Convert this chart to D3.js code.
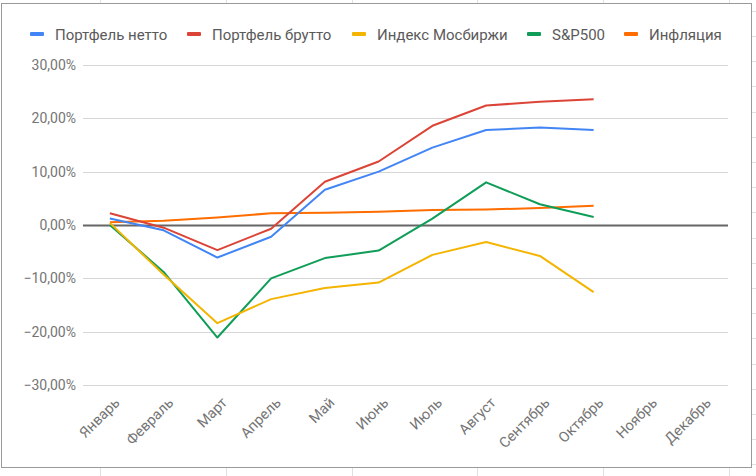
<!DOCTYPE html>
<html><head><meta charset="utf-8">
<script src="https://cdn.jsdelivr.net/npm/d3@7"></script>
<style>
html,body{margin:0;padding:0;background:#fff;}
svg{display:block;font-family:Roboto, "Noto Sans", sans-serif;}
</style></head>
<body><svg id="c" width="756" height="476"></svg>
<script>
const months = ["Январь","Февраль","Март","Апрель","Май","Июнь","Июль","Август","Сентябрь","Октябрь","Ноябрь","Декабрь"];
const seriesNames = ["Портфель нетто","Портфель брутто","Индекс Мосбиржи","S&P500","Инфляция"];
const seriesColors = ["#4285f4","#db4437","#f4b400","#0f9d58","#ff6d00"];
const netto    = [1.2, -1.0, -6.1, -2.2, 6.6, 10.0, 14.5, 17.8, 18.3, 17.8, null, null];
const brutto   = [2.2, -0.5, -4.7, -0.7, 8.1, 11.9, 18.6, 22.4, 23.1, 23.6, null, null];
const mosbirzha= [0.4, -9.3, -18.4, -13.9, -11.8, -10.8, -5.6, -3.2, -5.8, -12.6, null, null];
const sp500    = [0.0, -8.8, -21.1, -10.0, -6.2, -4.8, 1.2, 8.0, 3.9, 1.5, null, null];
const inflation= [0.5, 0.8, 1.4, 2.2, 2.3, 2.5, 2.8, 2.9, 3.2, 3.6, null, null];
const yTicks = [30, 20, 10, 0, -10, -20, -30];
const seriesValues = [netto, brutto, mosbirzha, sp500, inflation];

const svg = d3.select("#c");

// spreadsheet cell lines outside chart
const cellX = [100, 226, 352, 477, 603, 729];
cellX.forEach(x => {
  svg.append("line").attr("x1", x + .5).attr("x2", x + .5).attr("y1", 0).attr("y2", 3).attr("stroke", "#e0e0e0");
  svg.append("line").attr("x1", x + .5).attr("x2", x + .5).attr("y1", 468).attr("y2", 476).attr("stroke", "#e0e0e0");
});
for (let y = 10.8; y < 476; y += 25.2) {
  svg.append("line").attr("x1", 752).attr("x2", 756).attr("y1", Math.round(y) + .5).attr("y2", Math.round(y) + .5).attr("stroke", "#e0e0e0");
}

// chart border
svg.append("rect").attr("x", 1.5).attr("y", 3.5).attr("width", 750).attr("height", 464)
  .attr("fill", "#fff").attr("stroke", "#9a9a9a").attr("stroke-width", 1);

const x = d3.scaleBand().domain(months).range([83, 728]);
const y = d3.scaleLinear().domain([-30, 30]).range([385, 65]);

// grid
const gGrid = svg.append("g");
yTicks.forEach(t => {
  gGrid.append("line").attr("x1", 83).attr("x2", 728)
    .attr("y1", Math.round(y(t)) + .5).attr("y2", Math.round(y(t)) + .5)
    .attr("stroke", t === 0 ? "#666" : "#d6d6d6").attr("stroke-width", t === 0 ? 2 : 1);
});

// y axis labels
const yAxis = d3.axisLeft(y).tickValues(yTicks).tickSize(0).tickPadding(0)
  .tickFormat(d => d3.format(".2f")(d).replace(".", ",") + "%");
const gy = svg.append("g").attr("transform", "translate(76,0)").call(yAxis);
gy.select(".domain").remove();
gy.selectAll("text").attr("font-size", 14).attr("fill", "#757575").attr("font-family", "Roboto");

// x axis labels
const xAxis = d3.axisBottom(x).tickSize(0).tickPadding(0);
const gx = svg.append("g").attr("transform", "translate(0,0)").call(xAxis);
gx.select(".domain").remove();
gx.selectAll(".tick").attr("transform", d => `translate(${x(d) + x.bandwidth() / 2},0)`);
gx.selectAll("text")
  .attr("font-size", 14.5).attr("fill", "#757575").attr("font-family", "Roboto")
  .attr("text-anchor", "end").attr("dy", null).attr("y", null)
  .attr("transform", "translate(7,400) rotate(-45)")
  .attr("dy", "0.35em");

// lines
const line = d3.line().defined(d => d != null)
  .x((d, i) => x(months[i]) + x.bandwidth() / 2)
  .y(d => y(d));
const order = [4, 3, 2, 1, 0];
order.forEach(k => {
  svg.append("path").datum(seriesValues[k]).attr("d", line)
    .attr("fill", "none").attr("stroke", seriesColors[k]).attr("stroke-width", 2)
    .attr("stroke-linejoin", "round");
});

// legend
const legX = [30, 187, 352, 527, 624];
const gl = svg.append("g");
seriesNames.forEach((n, i) => {
  gl.append("rect").attr("x", legX[i]).attr("y", 32).attr("width", 14).attr("height", 4).attr("rx", 1)
    .attr("fill", seriesColors[i]);
  gl.append("text").attr("x", legX[i] + 25).attr("y", 39.5).attr("font-size", 15)
    .attr("fill", "#5a5a5a").attr("font-family", "Roboto").text(n);
});
</script></body></html>
